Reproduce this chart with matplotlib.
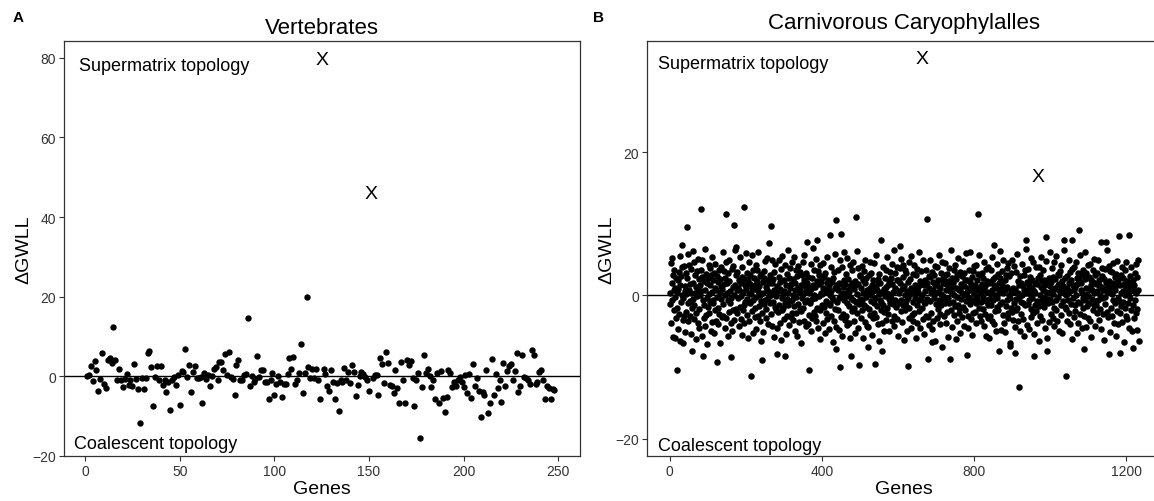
import numpy as np
import matplotlib
matplotlib.use("Agg")
import matplotlib.pyplot as plt

plt.rcParams['font.family'] = ['Liberation Sans', 'DejaVu Sans']

# ---- Panel A: Vertebrates (genes 1..248, gene 125 and 151 are the X marks)
vert_vals = [
    0.0, 0.4, 2.5, -1.1, 3.8, 1.5, -3.6, -0.6, 5.8, -1.8,
    -2.9, 4.0, 4.6, 3.3, 12.5, 4.2, -0.8, 1.9, -0.8, -2.7,
    -0.6, 0.6, -2.1, -0.8, -2.4, 3.2, -0.6, -3.3, -11.7, -0.4,
    -3.3, -0.4, 5.8, 6.4, 2.3, -7.4, -0.2, 2.5, -1.0, 2.5,
    -2.1, -0.8, -3.9, -1.3, -8.4, -1.0, -0.2, -2.1, 0.4, -7.3,
    1.3, 1.1, 6.9, -0.2, 2.8, -3.9, 1.1, 2.6, -0.4, -0.4,
    -0.2, -6.6, 0.9, -0.6, 0.4, -2.3, 0.0, 1.9, 2.3, -1.0,
    3.6, 3.6, 1.7, 5.7, 0.3, 6.1, -0.2, -0.6, -4.6, 2.9,
    4.2, -0.8, -0.8, 0.4, 0.7, 14.6, -2.3, 0.0, -1.4, -0.6,
    5.0, -0.2, 1.7, 1.7, -1.3, -1.3, -5.8, -0.8, 0.9, -4.8,
    -1.8, 0.0, -1.3, -5.2, -1.8, -1.8, 0.7, 4.6, 1.9, 4.8,
    -1.8, -1.0, 0.8, 8.2, -4.2, 0.8, 19.9, 2.3, -0.4, 1.9,
    -0.4, 1.9, -0.8, -5.8, 79.6, 1.9, 0.7, -2.5, -3.8, 1.5,
    -1.4, -5.6, -1.7, -8.8, -0.8, -1.4, 2.1, -0.8, 1.1, -1.7,
    2.8, 1.1, -5.0, -2.1, 0.0, 1.1, 0.7, -0.2, -0.8, -3.8,
    45.8, -0.4, 0.3, 0.4, -4.8, 4.6, 3.0, -1.7, 6.1, 3.3,
    -2.1, -2.5, -4.3, 1.5, -2.9, -6.8, 3.6, -0.8, -6.8, 4.2,
    2.9, 3.8, -0.4, -7.4, -1.0, 0.8, -15.4, -2.7, 5.3, 0.8,
    1.8, 0.0, -2.7, -0.8, -5.6, 0.8, -6.8, 1.3, -5.4, -8.9,
    -5.2, 1.5, 0.8, -2.7, -1.4, -2.3, -0.8, -0.2, -1.4, -2.7,
    0.4, -4.2, 0.7, -5.4, 3.2, -2.3, -0.4, -3.8, -10.2, -3.9,
    -4.6, 1.5, -9.2, -6.7, 4.4, -4.8, 0.7, -2.9, -0.8, -6.4,
    3.3, -2.3, 1.3, 2.5, 3.2, -1.0, 1.3, 5.8, -3.9, -2.3,
    5.3, -0.2, -0.4, -0.8, -1.8, 6.5, 5.4, -1.8, -1.4, 1.1,
    1.5, -0.8, -5.8, -2.5, -2.9, -5.6, -3.1, -3.5,
]
vert_x_genes = [125, 151]

# ---- Panel B: Carnivorous Caryophyllales, dense cloud (estimated)
carn_vals = [
    0.3, -1.2, 4.5, -3.8, 1.7, 5.2, -0.6, 2.9, -4.4, 0.8, -2.1, 3.6, -5.9, 1.1, -0.2, 2.4, -3.1, 4.8, 0.5, -1.8,
    2.2, -4.7, 0.9, 3.3, -2.6, 1.4, -6.3, 5.5, -0.9, 2.7, -1.5, 0.1, 3.9, -3.4, 1.9, -0.4, 4.1, -2.8, 0.6, -5.1,
    1.3, 3.1, -2.3, 0.2, -4.1, 2.5, 5.8, -1.1, -3.6, 0.7, 4.3, -0.8, 1.6, -2.9, 3.7, -5.4, 0.4, 2.1, -1.7, 6.2,
    -0.5, 1.8, -3.3, 4.6, -1.4, 0.3, 2.8, -6.1, 1.2, -2.4, 3.4, -0.1, 5.1, -3.9, 0.9, -1.9, 2.3, -4.6, 1.5, 0.0,
    3.5, -2.2, 0.6, -5.6, 2.6, 4.9, -0.7, 1.0, -3.2, 2.0, -1.3, 6.5, -4.3, 0.8, 3.0, -2.7, -0.3, 1.7, -6.8, 2.4,
    -1.6, 4.2, 0.2, -2.5, 3.8, -0.9, 1.4, -4.9, 2.9, 0.5, -3.7, 5.4, -1.0, 2.2, -0.6, 3.2, -5.2, 1.1, -2.0, 4.4,
    0.7, -3.5, 2.7, -0.2, 5.7, -1.8, -4.0, 1.9, 3.6, -2.6, 0.3, -6.6, 2.3, 4.0, -0.5, 1.3, -3.0, 0.9, 6.0, -1.2,
    -2.8, 1.6, 3.4, -4.5, 0.1, 2.5, -1.4, 4.7, -3.1, 0.4, 1.8, -5.7, 3.1, -0.7, 2.0, -2.3, 5.0, -1.1, 0.6, -3.9,
    2.9, -0.3, -5.0, 3.7, 1.2, -2.1, 4.1, -0.8, 0.0, -3.4, 6.4, 1.5, -1.9, 2.8, -4.8, 0.7, 3.3, -2.5, 1.0, -0.4,
    -4.2, 2.1, 0.8, -1.6, 5.3, -3.3, 1.7, -0.1, 2.6, -5.5, 3.9, -2.0, 0.5, 4.5, -1.3, -3.8, 1.4, 2.3, -0.9, 5.9,
    1.0, -2.7, 3.2, -0.5, -6.0, 2.2, 0.4, 4.6, -3.6, 1.6, -1.0, 2.9, -4.4, 0.2, 5.6, -2.2, 1.1, -0.7, 3.5, -5.3,
    2.4, 0.9, -3.0, 1.5, -1.7, 4.3, -0.2, -4.7, 2.0, 3.6, -2.9, 0.6, 6.1, -1.5, 1.3, -3.5, 0.0, 2.7, -6.4, 3.0,
    -0.8, 4.0, -2.4, 1.9, 0.3, -5.1, 3.4, -1.2, 2.5, -0.6, 4.8, -3.2, 1.2, -1.9, 0.7, 5.2, -4.0, 2.1, -0.3, 1.8,
    -3.7, 0.5, 2.8, -1.1, 3.9, -2.6, 0.1, -4.3, 1.7, 5.0, -0.9, 2.3, -5.8, 0.8, 3.3, -1.6, 4.4, -2.1, 0.4, -0.1,
    3.1, -4.6, 1.3, 0.6, -2.3, 4.9, -1.4, 2.6, -3.8, 0.9, 1.9, -6.2, 3.7, -0.4, -2.0, 5.5, 0.2, -1.8, 2.2, -3.3,
    0.6, 2.0, -1.0, 4.2, -5.4, 1.4, -0.5, 3.0, -2.8, 6.3, -1.3, 0.3, 2.4, -4.1, 1.0, -0.8, 3.8, -3.0, 1.6, -2.4,
    4.7, -0.6, -3.4, 2.3, 0.0, -1.5, 5.3, -4.9, 1.8, 0.7, -2.5, 3.5, -0.2, -5.6, 2.7, 1.1, -1.2, 4.1, -3.7, 0.5,
    -1.9, 3.3, 0.8, -2.2, 1.5, -6.7, 2.9, -0.3, 4.6, -1.7, 0.2, 2.1, -3.5, 5.7, -0.9, 1.3, -4.2, 0.6, 3.2, -2.6,
    1.7, -0.7, 2.6, -4.0, 0.4, 3.8, -2.7, 1.0, -1.1, 4.4, -5.0, 0.9, 2.5, -0.5, -3.1, 6.6, 1.4, -2.3, 0.1, 3.6,
    -2.9, 1.2, -0.4, 5.1, -3.6, 2.0, 0.7, -1.8, 3.4, -4.5, 1.6, -0.1, 2.8, -2.0, 4.2, -6.1, 0.3, 1.9, -1.4, 2.5,
    0.2, -3.9, 4.5, 1.1, -1.6, 2.7, -5.2, 0.5, 3.1, -0.8, -2.4, 1.8, 5.4, -3.3, 0.9, -1.0, 2.2, -4.7, 1.5, 0.0,
    3.7, -1.3, 0.6, -2.8, 4.0, -0.2, 1.9, -6.5, 2.4, -0.6, 3.3, -3.6, 1.0, 5.8, -1.9, 0.3, -4.4, 2.9, -0.9, 1.4,
    -2.1, 0.8, 3.6, -4.8, 1.7, -0.4, 2.5, 4.9, -3.0, 0.1, -1.7, 3.9, -5.7, 1.2, 0.4, -2.6, 6.0, -0.7, 2.1, -3.4,
    1.6, -0.1, -2.9, 3.0, -1.1, 5.2, -4.1, 0.7, 2.3, -1.5, 0.5, -3.8, 4.3, 1.3, -6.0, 2.6, -0.3, 1.8, -2.2, 3.5,
    -0.6, 4.6, -1.8, 0.9, -3.5, 2.0, 1.4, -5.3, 3.2, -0.9, 6.2, -2.5, 0.2, 1.6, -4.6, 3.8, -1.2, 0.6, 2.7, -0.5,
    2.8, -3.1, 1.1, -0.7, 4.1, -2.0, -5.9, 2.2, 0.4, 3.4, -1.4, 1.7, -3.7, 5.0, -0.2, -1.6, 2.4, -4.3, 0.8, 1.9,
    -4.4, 0.3, 2.9, -1.9, 1.0, 4.7, -2.7, 0.0, -0.8, 3.1, -5.5, 1.5, 2.1, -3.2, 0.6, 4.5, -1.0, -2.4, 3.7, -0.4,
    1.3, 5.6, -3.0, 0.7, -1.5, 2.3, -4.0, 1.9, 0.2, -6.3, 3.0, -0.6, 1.8, -2.1, 4.8, -0.9, 2.6, -3.9, 0.5, -1.3,
    3.9, -2.3, 0.9, -4.9, 2.5, -0.1, 1.2, 3.6, -3.4, 0.4, -1.8, 5.3, -2.6, 1.4, -0.5, 2.0, -5.0, 3.3, 0.1, -1.1,
    -0.3, 2.4, -3.6, 1.6, 4.4, -1.2, 0.5, -2.9, 6.4, -4.2, 1.1, -0.7, 3.2, -1.6, 0.8, -3.3, 2.2, 4.0, -5.6, 0.6,
    2.1, -1.0, 0.4, 3.8, -4.3, 1.7, -2.2, 5.1, -0.6, 0.9, -3.7, 2.6, -1.4, 4.3, -6.2, 1.3, 0.0, -2.0, 3.5, -0.8,
    -1.5, 3.1, -5.0, 0.6, 2.7, -0.3, 1.9, -3.2, 4.6, -1.8, 0.2, 2.3, -4.5, 1.0, 5.5, -2.7, 0.7, -0.9, 3.0, -3.6,
    0.8, -2.5, 4.2, -0.4, 1.5, -6.0, 2.8, 0.3, -1.3, 3.7, -3.9, 1.2, 0.5, -2.2, 6.1, -0.7, 2.0, -4.6, 1.6, -0.2,
    3.4, -1.7, 0.1, 2.5, -3.3, 4.9, -0.9, 1.4, -5.4, 2.2, 0.6, -1.1, 3.6, -2.8, 1.8, -0.5, 4.4, -3.0, 0.9, 2.7,
    -4.1, 1.1, 2.6, -0.8, 5.0, -2.4, 0.4, -1.6, 3.3, -4.7, 1.9, 0.7, -3.5, 2.9, -0.3, 1.5, -6.4, 4.1, -1.2, 0.3,
    1.4, -3.1, 3.9, 0.5, -1.9, 2.1, -0.6, 5.7, -4.0, 1.0, -2.6, 3.2, 0.2, -1.4, 4.7, -5.1, 2.4, -0.1, 1.7, -2.9,
    -0.7, 2.9, -1.1, 4.5, -3.8, 0.8, 1.6, -2.3, 3.0, -0.4, -5.8, 2.0, 1.3, -1.0, 3.8, -3.4, 0.6, 6.3, -2.1, 1.2,
    2.5, -4.4, 0.3, 1.8, -0.9, 3.5, -2.7, 0.0, 4.2, -1.5, 2.3, -6.1, 1.1, -0.2, 2.8, -3.6, 5.2, -1.3, 0.7, -2.4,
    -1.8, 0.9, 3.3, -5.2, 1.6, -0.5, 2.7, -3.0, 0.4, 4.8, -1.6, 1.3, -4.3, 3.1, 0.1, -2.0, 2.2, -0.8, 5.9, -3.7,
    0.5, 2.2, -2.8, 1.0, -4.6, 3.6, -0.3, 1.9, -1.2, 6.0, -3.3, 0.8, 2.6, -5.5, 1.4, -0.6, 3.4, -2.5, 0.2, 4.1,
    -2.3, 1.5, 0.7, -3.9, 4.3, -1.0, 2.1, -0.4, -5.3, 3.0, 0.9, -1.7, 5.6, -2.9, 1.2, 0.3, -3.6, 2.8, -0.9, 1.6,
    3.2, -0.2, -1.9, 2.4, -4.2, 0.6, 4.6, -2.6, 1.3, -0.8, 3.7, -5.7, 0.5, 2.0, -1.3, 4.0, -3.1, 1.7, -0.5, -6.0,
    1.9, -2.8, 3.5, 0.2, -1.4, 5.3, -3.5, 0.8, 2.3, -0.7, -4.0, 1.4, 3.9, -2.2, 0.0, 2.6, -5.0, 1.1, 4.4, -1.6,
    -0.4, 3.0, -2.1, 1.7, 0.4, -3.7, 6.2, -1.2, 2.5, -4.8, 0.9, 1.6, -0.9, 3.4, -2.7, 0.3, 4.9, -3.9, 1.0, 2.1,
    -5.1, 0.7, 2.9, -1.5, 3.8, -0.6, 1.2, -2.5, 4.5, -3.2, 0.1, 2.7, -6.6, 1.8, -0.3, 3.1, -1.8, 0.6, 5.0, -2.3,
    1.1, -3.4, 0.5, 4.1, -1.1, 2.3, -4.4, 0.9, 3.3, -0.5, -2.0, 5.8, -1.7, 0.4, 2.0, -3.5, 1.5, -0.2, 3.6, -4.9,
    2.7, -0.9, 1.8, -2.6, 0.0, 4.4, -3.3, 1.3, -1.0, 2.9, -5.6, 0.7, 3.5, -1.4, 6.5, -2.8, 0.3, 1.9, -4.1, 0.8,
    -1.2, 3.7, -0.6, 1.4, -4.7, 2.6, 0.2, -1.9, 5.2, -3.0, 1.0, -0.4, 2.2, -2.4, 4.7, 0.6, -5.4, 3.2, -1.3, 1.7,
    0.4, -2.2, 4.0, -0.8, 1.6, -3.8, 2.4, 0.9, -6.3, 3.9, -1.5, 0.1, 2.8, -2.9, 1.2, 5.4, -0.7, -3.4, 2.0, -1.0,
    3.6, 0.8, -1.6, 2.1, -4.5, 1.5, -0.3, 4.8, -2.3, 0.5, 3.1, -5.9, 1.7, -1.1, 0.3, 2.5, -3.7, 6.0, -0.5, 1.3,
    -2.6, 1.9, 0.6, -0.9, 3.8, -3.1, 2.6, 0.2, -1.8, 4.6, -4.3, 1.0, 2.3, -0.6, 5.5, -2.0, 0.9, -3.6, 1.4, 3.0,
    -0.2, 2.8, -4.9, 1.6, 0.5, 3.4, -1.3, -2.7, 4.2, 0.8, -5.2, 2.0, -0.8, 1.3, 6.3, -3.3, 0.4, 2.5, -1.6, 0.0,
    4.1, -1.9, 1.1, -3.5, 2.7, 0.3, -0.7, 5.0, -2.5, 1.8, -4.0, 3.3, 0.6, -1.2, 2.1, -6.1, 3.7, 0.9, -0.4, 1.5,
    -3.0, 0.7, 3.9, -1.4, 1.2, -2.2, 4.7, 0.1, -5.3, 2.4, 1.6, -0.9, 3.1, -3.9, 0.5, 2.2, -1.1, 5.6, -2.6, 0.8,
    1.7, -4.6, 2.9, 0.4, -1.7, 3.5, -0.3, 1.0, -2.8, 6.1, -0.6, 2.3, -4.4, 1.1, 3.2, -1.5, 0.2, -3.2, 4.3, -0.1,
    2.6, -1.0, 0.9, 4.4, -3.6, 1.4, -5.8, 2.1, 0.7, -0.5, 3.6, -2.1, 1.9, 5.1, -1.3, 0.3, -4.2, 2.8, -0.8, 1.6,
    -1.4, 3.1, -2.4, 0.6, 4.9, -0.7, 1.5, -3.4, 2.2, 0.0, -1.9, 5.7, -4.7, 1.2, 2.7, -0.4, 3.8, -2.6, 0.8, -6.2,
    0.9, 2.3, -1.2, 3.7, -0.2, -4.1, 1.8, 6.4, -2.3, 0.5, 1.3, -3.0, 4.1, -0.9, 2.0, -5.1, 1.0, 3.4, -1.7, 0.4,
    3.3, -2.8, 0.2, 1.7, -0.6, 4.5, -3.9, 1.1, 2.6, -1.1, 0.7, -5.6, 3.0, 1.5, -2.2, 4.8, -0.3, 2.1, -4.0, 1.9,
    -0.8, 1.4, 5.3, -2.5, 0.3, 2.9, -1.5, -3.7, 4.0, 0.6, -0.9, 2.4, -6.5, 1.6, 3.5, -1.8, 0.1, 4.6, -2.9, 1.2,
    2.0, -3.3, 0.8, 1.9, -1.0, 5.9, -4.5, 0.5, 2.7, -0.4, 1.3, -2.0, 3.9, -5.0, 0.9, 2.2, -1.4, 4.2, -3.1, 0.6,
    1.5, -0.7, 3.1, -2.4, 0.4, 4.4, -1.9, 2.6, -4.8, 0.7, 5.0, -3.6,
]

# readable outliers in panel B (gene index, value)
carn_out_genes = [9, 18, 31, 35, 45, 58, 82, 88, 125, 147, 161, 168, 175, 194, 213, 242,
                  261, 265, 281, 302, 360, 366, 387, 421, 436, 438, 447, 451, 476, 489, 498,
                  520, 539, 555, 557, 605, 625, 677, 679, 688, 716, 736, 780, 809, 853, 866,
                  894, 906, 919, 936, 958, 989, 991, 1036, 1041, 1058, 1075, 1088, 1132, 1146,
                  1154, 1180, 1183, 1206, 1218, 1232]
carn_out_vals = [-5.8, -10.4, 7.1, -6.6, 9.5, -7.8, 12.1, -8.5, -9.3, 11.4, -8.6, 9.8, 6.8, 12.3, -11.3, -9.0,
                 7.3, 9.7, -8.2, -8.4, 7.5, -10.4, 7.8, 8.4, 10.5, -7.5, -10.0, 8.6, -8.4, 11.0, -9.7,
                 -7.2, -9.6, 7.8, -7.8, 6.9, -9.8, 10.6, -8.8, -6.5, -7.2, -8.9, -8.3, 11.4, 7.1, -7.8,
                 -7.1, -8.0, -12.8, 7.7, -8.5, 8.1, -7.7, 7.8, -11.3, 7.8, 9.2, -7.5, 7.4, 7.4,
                 -8.2, 8.3, -8.0, 8.4, -7.3, -6.4]
carn_x_genes = [664, 968]
carn_x_vals = [33.1, 16.6]

W, H = 1154, 502
fig = plt.figure(figsize=(W / 100, H / 100), dpi=100)

axA = fig.add_axes([63.5 / W, 1 - 457 / H, 516.5 / W, 415 / H])
axB = fig.add_axes([646.7 / W, 1 - 457 / H, 515.3 / W, 415 / H])

tick_col = '#333333'


def style(ax):
    for sp in ax.spines.values():
        sp.set_color('#333333')
        sp.set_linewidth(0.9)
    ax.tick_params(direction='out', length=3.5, width=0.8, color='#333333',
                   labelsize=10, labelcolor=tick_col, pad=2)
    ax.axhline(0, color='black', lw=1.0, zorder=1)
    ax.set_xlabel('Genes', fontsize=14, labelpad=2)
    ax.set_ylabel('ΔGWLL', fontsize=14, labelpad=0)


# panel A
vert = np.array(vert_vals)
genes_a = np.arange(1, len(vert) + 1)
is_x = np.isin(genes_a, vert_x_genes)
axA.scatter(genes_a[~is_x], vert[~is_x], s=21, color='black', linewidths=0, zorder=3)
for g in vert_x_genes:
    axA.text(g, vert[g - 1], 'X', ha='center', va='center', fontsize=14, zorder=4)
axA.set_xlim(-11.4, 261.5)
axA.set_ylim(-20.0, 84.2)
axA.set_xticks([0, 50, 100, 150, 200, 250])
axA.set_yticks([-20, 0, 20, 40, 60, 80])
style(axA)
axA.set_title('Vertebrates', fontsize=16, pad=6)
axA.text(0.03, 0.94, 'Supermatrix topology', transform=axA.transAxes,
         fontsize=13, va='center', ha='left')
axA.text(0.02, 0.03, 'Coalescent topology', transform=axA.transAxes,
         fontsize=13, va='center', ha='left')

# panel B
carn = np.array(carn_vals)
genes_b = np.arange(1, len(carn) + 1)
for g, v in zip(carn_out_genes, carn_out_vals):
    if g <= len(carn):
        carn[g - 1] = v
is_xb = np.isin(genes_b, carn_x_genes)
axB.scatter(genes_b[~is_xb], carn[~is_xb], s=22, color='black', linewidths=0, zorder=3)
for g, v in zip(carn_x_genes, carn_x_vals):
    axB.text(g, v, 'X', ha='center', va='center', fontsize=14, zorder=4)
axB.set_xlim(-60.5, 1293.5)
axB.set_ylim(-22.4, 35.5)
axB.set_xticks([0, 400, 800, 1200])
axB.set_yticks([-20, 0, 20])
style(axB)
axB.text(0.022, 0.945, 'Supermatrix topology', transform=axB.transAxes,
         fontsize=13, va='center', ha='left')
axB.text(0.022, 0.025, 'Coalescent topology', transform=axB.transAxes,
         fontsize=13, va='center', ha='left')
fig.text(904 / W, 1 - 24 / H, 'Carnivorous Caryophylalles', fontsize=16,
         ha='center', va='center')

fig.text(18 / W, 1 - 18 / H, 'A', fontsize=11, fontweight='bold', ha='center', va='center')
fig.text(599 / W, 1 - 18 / H, 'B', fontsize=11, fontweight='bold', ha='center', va='center')

fig.savefig('out.png', dpi=100)
